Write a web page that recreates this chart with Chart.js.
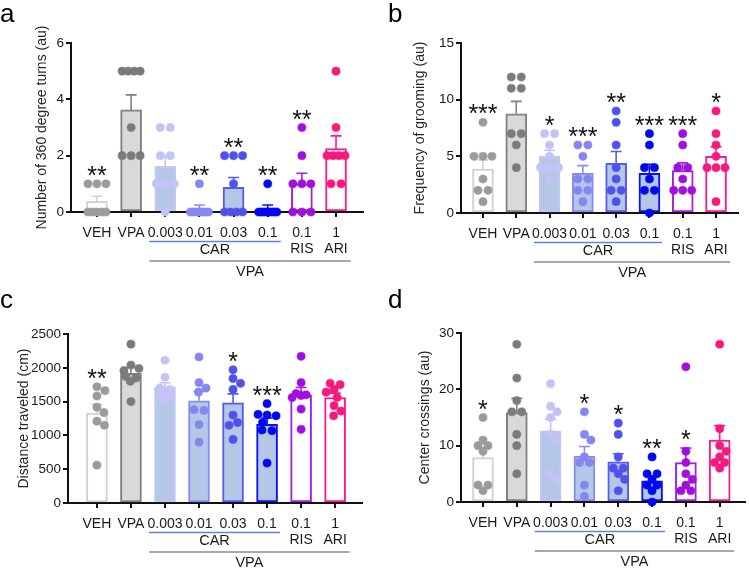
<!DOCTYPE html>
<html>
<head>
<meta charset="utf-8">
<script src="https://cdn.jsdelivr.net/npm/chart.js@4.4.1/dist/chart.umd.min.js"></script>
<style>
  html, body { margin: 0; padding: 0; background: #fff; overflow: hidden; }
  #wrap { position: relative; width: 749px; height: 569px; }
  canvas { position: absolute; }
</style>
</head>
<body>
<div id="wrap">
  <canvas id="pa" width="375" height="285" style="left:0;top:0"></canvas>
  <canvas id="pb" width="375" height="285" style="left:375px;top:0"></canvas>
  <canvas id="pc" width="375" height="285" style="left:0;top:285px"></canvas>
  <canvas id="pd" width="375" height="285" style="left:375px;top:285px"></canvas>
</div>
<script>
const FONT = 'Arial, "Liberation Sans", Helvetica, sans-serif';

// x categories (second line = drug name)
const groupLabels = [['VEH'], ['VPA'], ['0.003'], ['0.01'], ['0.03'], ['0.1'], ['0.1', 'RIS'], ['1', 'ARI']];

// individual animals per group
const turns = [
  [1, 1, 1, 0, 0, 0, 0, 0],
  [5, 5, 5, 5, 3, 2, 2, 2],
  [3, 3, 2, 2, 1, 1, 1, 0],
  [1, 0, 0, 0, 0, 0, 0, 0],
  [2, 2, 2, 1, 0, 0, 0, 0],
  [1, 0, 0, 0, 0, 0, 0, 0],
  [3, 2, 1, 1, 1, 0, 0, 0],
  [5, 3, 2, 2, 2, 2, 1, 1]
];
const grooming = [
  [8, 5, 5, 5, 3, 2, 2, 1],
  [12, 12, 11, 11, 7, 7, 6, 4],
  [7, 7, 6, 5, 4, 4, 4, 3],
  [6, 6, 5, 3, 3, 2, 2, 1],
  [9, 8, 6, 4, 3, 2, 2, 1],
  [7, 6, 4, 4, 3, 2, 2, 0],
  [7, 6, 4, 4, 3, 2, 2, 2],
  [9, 7, 6, 5, 4, 4, 4, 1]
];
const distance = [
  [1720, 1662, 1583, 1417, 1338, 1210, 1150, 560],
  [2350, 2040, 1990, 1960, 1870, 1850, 1800, 1500],
  [2110, 1860, 1700, 1680, 1660, 1600, 1580, 1500],
  [2160, 1780, 1700, 1640, 1380, 1370, 1160, 900],
  [1970, 1840, 1770, 1680, 1300, 1190, 1150, 940],
  [1470, 1310, 1300, 1290, 1190, 1080, 1070, 590],
  [2170, 1780, 1620, 1600, 1590, 1560, 1390, 1090],
  [1770, 1750, 1680, 1640, 1560, 1440, 1360, 1290]
];
const crossings = [
  [15, 11, 10, 10, 9, 3, 3, 2],
  [28, 22, 18, 16, 16, 12, 10, 5],
  [21, 17, 16, 15, 12, 11, 5, 4],
  [16, 12, 11, 8, 7, 7, 3, 1],
  [14, 12, 8, 6, 6, 5, 4, 2],
  [8, 5, 5, 4, 3, 3, 2, 0],
  [24, 9, 7, 5, 4, 3, 2, 2],
  [28, 13, 10, 9, 8, 7, 7, 6]
];

// significance vs VPA
const turnsStars = ['**', '', '', '**', '**', '**', '**', ''];
const groomingStars = ['***', '', '*', '***', '**', '***', '***', '*'];
const distanceStars = ['**', '', '', '', '*', '***', '', ''];
const crossingsStars = ['*', '', '', '*', '*', '**', '*', ''];

// y tick values
const turnsTicks = [0, 2, 4, 6];
const groomingTicks = [0, 5, 10, 15];
const distanceTicks = [0, 500, 1000, 1500, 2000, 2500];
const crossingsTicks = [0, 10, 20, 30];

// colours per group
const barFill = ['#ffffff', '#d9d9d9', '#b4c7e7', '#b4c7e7', '#b4c7e7', '#b4c7e7', '#ffffff', '#ffffff'];
const barEdge = ['#d2d2d2', '#808080', '#c4c6f5', '#8a8af1', '#5a5aee', '#0a10ee', '#a41fe0', '#ff1a8c'];
const dotColor = ['#9b9b9b', '#7b7b7b', '#c3c3f6', '#8686ef', '#5050ec', '#0008ee', '#a010dc', '#f9187c'];

// layout of each panel (canvas-local pixels)
const panels = [
  { canvas: 'pa', letter: 'a', values: turns, stars: turnsStars, yTicks: turnsTicks,
    title: 'Number of 360 degree turns (au)', axisX: 71, top: 43, bottom: 212, right: 363,
    titleX: 42, xmin: -0.76, xmax: 7.79, letterX: 0, letterY: 22 },
  { canvas: 'pb', letter: 'b', values: grooming, stars: groomingStars, yTicks: groomingTicks,
    title: 'Frequency of grooming (au)', axisX: 86, top: 43, bottom: 213, right: 363,
    titleX: 45, xmin: -0.66, xmax: 7.66, letterX: 13, letterY: 22 },
  { canvas: 'pc', letter: 'c', values: distance, stars: distanceStars, yTicks: distanceTicks,
    title: 'Distance traveled (cm)', axisX: 68, top: 49, bottom: 218, right: 362,
    titleX: 24, xmin: -0.85, xmax: 7.79, letterX: 0, letterY: 23 },
  { canvas: 'pd', letter: 'd', values: crossings, stars: crossingsStars, yTicks: crossingsTicks,
    title: 'Center crossings (au)', axisX: 86, top: 48, bottom: 217, right: 372,
    titleX: 50, xmin: -0.65, xmax: 7.76, letterX: 13, letterY: 23 }
];

const mean = a => a.reduce((s, v) => s + v, 0) / a.length;
const sem = a => {
  const m = mean(a);
  return Math.sqrt(a.reduce((s, v) => s + (v - m) ** 2, 0) / (a.length - 1) / a.length);
};

// simple beeswarm: equal values side by side, others nudged sideways to avoid overlap
function swarm(vals, pxPerUnit) {
  const order = vals.map((v, i) => i).sort((a, b) => vals[b] - vals[a]);
  const off = vals.map(() => 0);
  const rows = [];
  order.forEach(i => {
    const row = rows[rows.length - 1];
    if (row && Math.abs(vals[row[0]] - vals[i]) * pxPerUnit < 1.5) row.push(i);
    else rows.push([i]);
  });
  const placed = [];
  rows.forEach(row => {
    if (row.length > 1) {
      const step = Math.min(10, 18 / (row.length - 1));
      row.forEach((i, k) => { off[i] = (k - (row.length - 1) / 2) * step; placed.push(i); });
      return;
    }
    const i = row[0];
    let best = 0, bestGap = -1;
    search:
    for (let d = 0; d <= 9; d += 0.5) {
      for (const c of (d ? [d, -d] : [0])) {
        let gap = Infinity;
        placed.forEach(j => {
          gap = Math.min(gap, Math.hypot(c - off[j], (vals[i] - vals[j]) * pxPerUnit));
        });
        if (gap >= 8.5) { best = c; break search; }
        if (gap > bestGap) { bestGap = gap; best = c; }
      }
    }
    off[i] = best;
    placed.push(i);
  });
  return off;
}

panels.forEach(p => {
  const canvas = document.getElementById(p.canvas);
  const W = canvas.width, H = canvas.height;
  const yMax = p.yTicks[p.yTicks.length - 1];
  const pxPerUnit = (p.bottom - p.top) / yMax;
  const slotPx = (p.right - p.axisX) / (p.xmax - p.xmin);
  const means = p.values.map(mean);
  const sems = p.values.map(sem);

  const dots = [], dotCols = [];
  p.values.forEach((vals, i) => {
    const off = swarm(vals, pxPerUnit);
    vals.forEach((v, k) => {
      dots.push({ x: i + off[k] / slotPx, y: v });
      dotCols.push(dotColor[i]);
    });
  });

  const titleSize = 14;
  const padLeft = p.titleX - titleSize * 0.6;

  const extras = {
    id: 'extras',
    afterDatasetDraw(chart, args) {
      if (args.index !== 0) return;
      // SEM error bars (upper half only)
      const { ctx, scales: { x, y } } = chart;
      ctx.save();
      ctx.lineWidth = 1.6;
      means.forEach((m, i) => {
        const px = x.getPixelForValue(i);
        const y0 = y.getPixelForValue(m);
        const y1 = y.getPixelForValue(m + sems[i]);
        ctx.strokeStyle = barEdge[i];
        ctx.beginPath();
        ctx.moveTo(px, y0);
        ctx.lineTo(px, y1);
        ctx.moveTo(px - 5.5, y1);
        ctx.lineTo(px + 5.5, y1);
        ctx.stroke();
      });
      ctx.restore();
    },
    afterDraw(chart) {
      const { ctx, chartArea, scales: { x, y } } = chart;
      ctx.save();
      // asterisks above the highest mark (ignoring a lone far outlier)
      ctx.fillStyle = '#111';
      ctx.font = '25px ' + FONT;
      ctx.textAlign = 'center';
      ctx.textBaseline = 'alphabetic';
      p.stars.forEach((s, i) => {
        if (!s) return;
        const sorted = [...p.values[i]].sort((a, b) => b - a);
        let top = sorted[0];
        if ((sorted[0] - sorted[1]) * pxPerUnit > 40) top = sorted[1];
        top = Math.max(top, means[i] + sems[i]);
        const cy = y.getPixelForValue(top) - 14;
        ctx.fillText(s, x.getPixelForValue(i), cy + 14);
      });

      // group brackets under the axis
      const b = chartArea.bottom;
      const slot = x.getPixelForValue(1) - x.getPixelForValue(0);
      const x0 = x.getPixelForValue(2) - 0.47 * slot;
      const xCar = x.getPixelForValue(5) + 0.38 * slot;
      const xVpa = x.getPixelForValue(7) + 0.43 * slot;
      ctx.lineWidth = 1.6;
      ctx.strokeStyle = '#5b86d6';
      ctx.beginPath(); ctx.moveTo(x0, b + 29.5); ctx.lineTo(xCar, b + 29.5); ctx.stroke();
      ctx.strokeStyle = '#8c8c8c';
      ctx.beginPath(); ctx.moveTo(x0, b + 49); ctx.lineTo(xVpa, b + 49); ctx.stroke();
      ctx.fillStyle = '#1a1a1a';
      ctx.font = '14.5px ' + FONT;
      ctx.textBaseline = 'middle';
      ctx.fillText('CAR', (x0 + xCar) / 2, b + 37.5);
      ctx.fillText('VPA', (x0 + xVpa) / 2, b + 60);

      // panel letter
      ctx.fillStyle = '#000';
      ctx.font = '26px ' + FONT;
      ctx.textAlign = 'left';
      ctx.textBaseline = 'alphabetic';
      ctx.fillText(p.letter, p.letterX, p.letterY);
      ctx.restore();
    }
  };

  new Chart(canvas, {
    type: 'bar',
    data: {
      datasets: [
        {
          type: 'bar',
          data: means.map((m, i) => ({ x: i, y: m })),
          backgroundColor: barFill,
          borderColor: barEdge,
          borderWidth: 2,
          borderSkipped: false,
          barThickness: 21,
          order: 2
        },
        {
          type: 'scatter',
          data: dots,
          pointRadius: 4.1,
          pointHoverRadius: 4.1,
          pointBackgroundColor: dotCols,
          pointBorderColor: dotCols,
          pointBorderWidth: 0.5,
          clip: false,
          order: 1
        }
      ]
    },
    options: {
      responsive: false,
      animation: false,
      devicePixelRatio: 1,
      events: [],
      layout: { padding: { left: padLeft, top: p.top, right: W - p.right, bottom: 0 } },
      plugins: { legend: { display: false }, tooltip: { enabled: false } },
      scales: {
        x: {
          type: 'linear',
          min: p.xmin,
          max: p.xmax,
          offset: false,
          afterBuildTicks: s => { s.ticks = groupLabels.map((g, i) => ({ value: i })); },
          afterFit: s => { s.height = H - p.bottom; },
          ticks: {
            callback: v => groupLabels[v],
            font: { family: FONT, size: 14, lineHeight: 1.15 },
            color: '#1a1a1a',
            padding: 8,
            maxRotation: 0,
            minRotation: 0,
            autoSkip: false
          },
          grid: { offset: false, drawOnChartArea: false, drawTicks: true, tickLength: 5, color: '#111', lineWidth: 2 },
          border: { color: '#111', width: 2 }
        },
        y: {
          min: 0,
          max: yMax,
          afterBuildTicks: s => { s.ticks = p.yTicks.map(v => ({ value: v })); },
          afterFit: s => { s.width = p.axisX - padLeft; },
          ticks: { callback: v => String(v), font: { family: FONT, size: 13.5 }, color: '#1a1a1a', padding: 2 },
          grid: { drawOnChartArea: false, drawTicks: true, tickLength: 5, color: '#111', lineWidth: 2 },
          border: { color: '#111', width: 2 },
          title: { display: true, text: p.title, font: { family: FONT, size: titleSize }, color: '#262626', padding: 0 }
        }
      }
    },
    plugins: [extras]
  });
});
</script>
</body>
</html>
